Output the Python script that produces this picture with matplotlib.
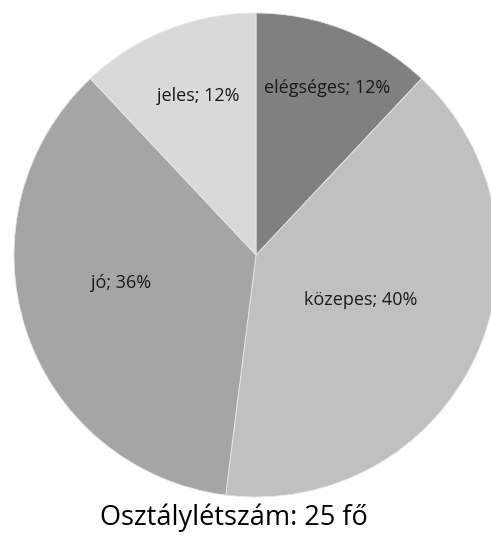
import numpy as np
import matplotlib.pyplot as plt

labels = ["elégséges", "közepes", "jó", "jeles"]
values = [12, 40, 36, 12]
colors = ["#808080", "#c0c0c0", "#a5a5a5", "#d9d9d9"]
label_dist = [0.75, 0.47, 0.57, 0.70]
label_shift = [-1.5, 1.8, -6.5, -1.5]  # degrees, fine tuning
title = "Osztálylétszám: 25 fő"

W, H = 491, 536
cx, cy, R = 256, 255, 242

fig = plt.figure(figsize=(W / 100, H / 100), dpi=100)
ax = fig.add_axes([0, 0, 1, 1])
wedges, _ = ax.pie(values, colors=colors, startangle=90, counterclock=False,
                   wedgeprops=dict(edgecolor="#e8e8e8", linewidth=0.6))
ax.set_xlim(-cx / R, (W - cx) / R)
ax.set_ylim(-(H - cy) / R, cy / R)
ax.set_aspect("auto")
ax.axis("off")

for w, lab, v, d, s in zip(wedges, labels, values, label_dist, label_shift):
    ang = np.deg2rad((w.theta1 + w.theta2) / 2 + s)
    ax.text(d * np.cos(ang), d * np.sin(ang), f"{lab}; {v}%",
            ha="center", va="center", fontsize=13, family="Open Sans",
            color="#1a1a1a")

fig.text(234 / W, 1 - 518 / H, title, ha="center", va="center",
         fontsize=19.5, family="Open Sans", color="black")

fig.savefig("out.png", dpi=100)
